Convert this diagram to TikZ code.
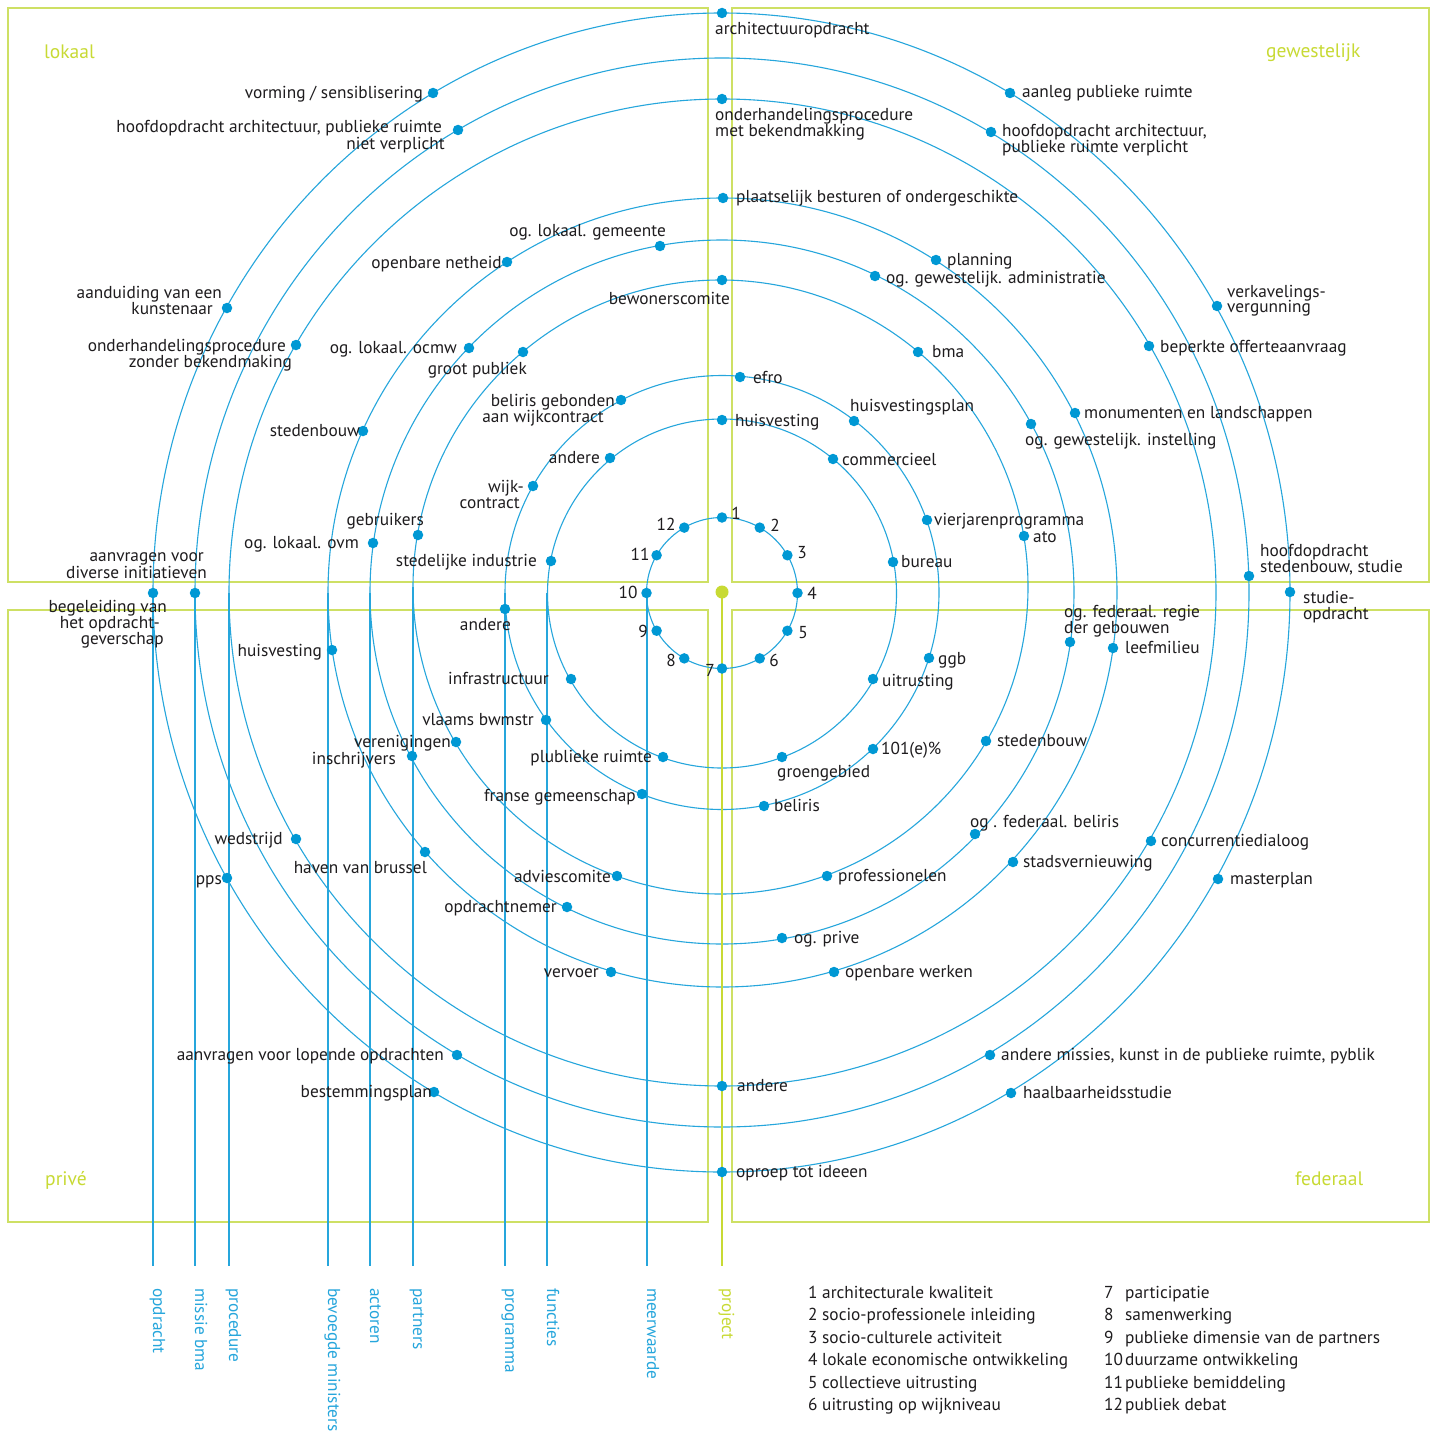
\documentclass[tikz,border=0pt]{standalone}
\usepackage{fontspec}
\setmainfont{PT Sans}
\definecolor{lineblue}{RGB}{38,166,220}
\definecolor{dotblue}{RGB}{0,152,212}
\definecolor{txtcol}{RGB}{30,28,30}
\definecolor{limegreen}{RGB}{200,218,52}
\definecolor{boxgreen}{RGB}{206,224,100}
\newcommand\lblfont{\fontsize{17.3}{17}\selectfont}
\newcommand\quadfont{\fontsize{19.5}{20}\selectfont}
\tikzset{
  dot/.style={circle, fill=dotblue, inner sep=0pt, minimum size=10.5pt},
  lw/.style={font=\lblfont, text=txtcol, inner sep=0pt, anchor=base west},
  le/.style={font=\lblfont, text=txtcol, inner sep=0pt, anchor=base east},
  num/.style={font=\lblfont, text=txtcol, inner sep=0pt},
  ring/.style={draw=lineblue, line width=1.1pt},
  quad/.style={draw=boxgreen, line width=1.4pt},
  quadlbl/.style={font=\quadfont, text=limegreen, inner sep=0pt, anchor=base west},
  axislbl/.style={font=\lblfont, text=lineblue, inner sep=0pt, rotate=-90, anchor=base west},
  leg/.style={font=\lblfont, text=txtcol, inner sep=0pt, anchor=base west},
}
\begin{document}
\begin{tikzpicture}[x=1pt,y=-1pt]
\useasboundingbox[fill=white] (0,0) rectangle (1434,1434);

% quadrant frames
\draw[quad] (8,8) rectangle (708,582);
\draw[quad] (732,8) rectangle (1429,582);
\draw[quad] (8,610) rectangle (708,1222);
\draw[quad] (732,610) rectangle (1429,1222);
\node[quadlbl] (q-lok) at (44,59) {lokaal};
\node[quadlbl] (q-gew) at (1266,58) {gewestelijk};
\node[quadlbl] (q-pri) at (45,1185) {privé};
\node[quadlbl] (q-fed) at (1295,1185) {federaal};

% rings
\draw[ring] (722,593) circle[radius=75.5pt];
\draw[ring] (722,593.5) circle[radius=174.5pt];
\draw[ring] (722,592.5) circle[radius=217pt];
\draw[ring] (720.5,587) ellipse[x radius=307.5pt, y radius=307pt];
\draw[ring] (722,592) circle[radius=352pt];
\draw[ring] (722.5,592.5) circle[radius=394.5pt];
\draw[ring] (722.5,592.5) circle[radius=493.5pt];
\draw[ring] (722,592.5) ellipse[x radius=527pt, y radius=534.5pt];
\draw[ring] (721.5,592.5) ellipse[x radius=568.5pt, y radius=579.5pt];

% vertical axes
\foreach \x/\y/\nm/\txt in {153/593/opd/opdracht, 195/593/mis/missie bma, 229/593/proc/procedure, 328/593/bev/bevoegde ministers, 370/593/act/actoren, 413/587/par/partners, 505/593/prog/programma, 547/593/fun/functies, 647/593/meer/meerwaarde}{
  \coordinate (top-\nm) at (\x,\y);
  \coordinate (bot-\nm) at (\x,1266);
  \draw[ring] (top-\nm) -- (bot-\nm);
  \node[axislbl] (ax-\nm) at (\x,1288) {\txt};
}
\coordinate (top-proj) at (722,593);
\coordinate (bot-proj) at (722,1266);
\draw[draw=limegreen, line width=1.1pt] (top-proj) -- (bot-proj);
\node[axislbl, text=limegreen] (ax-proj) at (722,1288) {project};
\node[circle, fill=limegreen, inner sep=0pt, minimum size=13pt] (center) at (722,592) {};

% ring A: numbers
\foreach \k in {1,...,12}{
  \node[dot] (n\k) at ({722+75.5*sin(30*(\k-1))},{593-75.5*cos(30*(\k-1))}) {};
}
\node[num] (t1) at (736,513) {1};
\node[num] (t2) at (775,525) {2};
\node[num] (t3) at (802,553) {3};
\node[num] (t4) at (812,593) {4};
\node[num] (t5) at (803,633) {5};
\node[num] (t6) at (774,660) {6};
\node[num] (t7) at (710,670) {7};
\node[num] (t8) at (671,660) {8};
\node[num] (t9) at (643,631) {9};
\node[num] (t10) at (628,592) {10};
\node[num] (t11) at (640,554) {11};
\node[num] (t12) at (666,524) {12};

% ring B (functies)
\node[dot] (b1) at (722,420) {};  \node[lw] (lb1) at (735,426) {huisvesting};
\node[dot] (b2) at (610,458) {};  \node[le] (lb2) at (600,463) {andere};
\node[dot] (b3) at (833,459) {};  \node[lw] (lb3) at (842,465) {commercieel};
\node[dot] (b4) at (551,561) {};  \node[le] (lb4) at (537,566) {stedelijke industrie};
\node[dot] (b5) at (893,562) {};  \node[lw] (lb5) at (901,567) {bureau};
\node[dot] (b6) at (571,679) {};  \node[le] (lb6) at (549,684) {infrastructuur};
\node[dot] (b7) at (873,679) {};  \node[lw] (lb7) at (882,686) {uitrusting};
\node[dot] (b8) at (663,757) {};  \node[le] (lb8) at (652,762) {plublieke ruimte};
\node[dot] (b9) at (782,757) {};  \node[lw] (lb9) at (777,777) {groengebied};

% ring C (programma)
\node[dot] (c1) at (740,377) {};  \node[lw] (lc1) at (753,383) {efro};
\node[dot] (c2) at (621,400) {};  \node[le] (lc2a) at (615,406) {beliris gebonden};
                                   \node[le] (lc2b) at (604,422) {aan wijkcontract};
\node[dot] (c3) at (854,421) {};  \node[lw] (lc3) at (850,411) {huisvestingsplan};
\node[dot] (c4) at (533,486) {};  \node[le] (lc4a) at (524,492) {wijk-};
                                   \node[le] (lc4b) at (520,508) {contract};
\node[dot] (c5) at (927,520) {};  \node[lw] (lc5) at (934,525) {vierjarenprogramma};
\node[dot] (c6) at (505,609) {};  \node[le] (lc6) at (511,630) {andere};
\node[dot] (c7) at (929,658) {};  \node[lw] (lc7) at (938,664) {ggb};
\node[dot] (c8) at (546,720) {};  \node[le] (lc8) at (534,725) {vlaams bwmstr};
\node[dot] (c9) at (873,749) {};  \node[lw] (lc9) at (881,754) {101(e)\%};
\node[dot] (c10) at (642,794) {}; \node[le] (lc10) at (636,801) {franse gemeenschap};
\node[dot] (c11) at (764,806) {}; \node[lw] (lc11) at (774,811) {beliris};

% ring D (partners)
\node[dot] (d1) at (722,280) {};  \node[le] (ld1) at (730,304) {bewonerscomite};
\node[dot] (d2) at (523,352) {};  \node[le] (ld2) at (527,374) {groot publiek};
\node[dot] (d3) at (1024,536) {}; \node[lw] (ld3) at (1033,542) {ato};
\node[dot] (d4) at (418,535) {};  \node[le] (ld4) at (424,525) {gebruikers};
\node[dot] (d5) at (456,742) {};  \node[le] (ld5) at (451,747) {verenigingen};
\node[dot] (d6) at (617,876) {};  \node[le] (ld6) at (611,882) {adviescomite};
\node[dot] (d7) at (827,876) {};  \node[lw] (ld7) at (838,881) {professionelen};

% ring E (actoren)
\node[dot] (e1) at (660,246) {};  \node[le] (le1) at (666,236) {og. lokaal. gemeente};
\node[dot] (e2) at (875,276) {};  \node[lw] (le2) at (886,283) {og. gewestelijk. administratie};
\node[dot] (e3) at (469,348) {};  \node[le] (le3) at (457,353) {og. lokaal. ocmw};
\node[dot] (e4) at (918,352) {};  \node[lw] (le4) at (932,357) {bma};
\node[dot] (e5) at (373,543) {};  \node[le] (le5) at (359,548) {og. lokaal. ovm};
\node[dot] (e6) at (1070,642) {}; \node[lw] (le6a) at (1064,617) {og. federaal. regie};
                                   \node[lw] (le6b) at (1064,633) {der gebouwen};
\node[dot] (e7) at (975,834) {};  \node[lw] (le7) at (970,827) {og . federaal. beliris};
\node[dot] (e8) at (782,938) {};  \node[lw] (le8) at (794,943) {og. prive};
\node[dot] (e9) at (412,756) {};  \node[le] (le9) at (396,764) {inschrijvers};
\node[dot] (e10) at (567,907) {}; \node[le] (le10) at (557,912) {opdrachtnemer};

% ring F (bevoegde ministers)
\node[dot] (f1) at (723,198) {};  \node[lw] (lf1) at (736,203) {plaatselijk besturen of ondergeschikte};
\node[dot] (f2) at (507,262) {};  \node[le] (lf2) at (502,268) {openbare netheid};
\node[dot] (f3) at (936,260) {};  \node[lw] (lf3) at (947,265) {planning};
\node[dot] (f4) at (363,431) {};  \node[le] (lf4) at (360,436) {stedenbouw};
\node[dot] (f5) at (1031,424) {}; \node[lw] (lf5) at (1025,445) {og. gewestelijk. instelling};
\node[dot] (f6) at (332,650) {};  \node[le] (lf6) at (322,656) {huisvesting};
\node[dot] (f7) at (986,741) {};  \node[lw] (lf7) at (997,746) {stedenbouw};
\node[dot] (f8) at (425,852) {};  \node[le] (lf8) at (427,873) {haven van brussel};
\node[dot] (f9) at (834,972) {};  \node[lw] (lf9) at (845,977) {openbare werken};
\node[dot] (f10) at (611,972) {}; \node[le] (lf10) at (599,977) {vervoer};

% ring G (procedure)
\node[dot] (g1) at (722,99) {};   \node[lw] (lg1a) at (715,121) {onderhandelingsprocedure};
                                   \node[lw] (lg1b) at (715,137) {met bekendmakking};
\node[dot] (g2) at (296,345) {};  \node[le] (lg2a) at (286,351) {onderhandelingsprocedure};
                                   \node[le] (lg2b) at (292,367) {zonder bekendmaking};
\node[dot] (g3) at (1075,413) {}; \node[lw] (lg3) at (1084,418) {monumenten en landschappen};
\node[dot] (g4) at (1113,648) {}; \node[lw] (lg4) at (1125,653) {leefmilieu};
\node[dot] (g5) at (296,839) {};  \node[le] (lg5) at (283,844) {wedstrijd};
\node[dot] (g6) at (1013,862) {}; \node[lw] (lg6) at (1023,867) {stadsvernieuwing};
\node[dot] (g7) at (722,1086) {}; \node[lw] (lg7) at (737,1091) {andere};

% ring H (missie bma)
\node[dot] (h1) at (458,130) {};  \node[le] (lh1a) at (442,133) {hoofdopdracht architectuur, publieke ruimte};
                                   \node[le] (lh1b) at (445,150) {niet verplicht};
\node[dot] (h2) at (991,132) {};  \node[lw] (lh2a) at (1002,137) {hoofdopdracht architectuur,};
                                   \node[lw] (lh2b) at (1002,153) {publieke ruimte verplicht};
\node[dot] (h3) at (1149,346) {}; \node[lw] (lh3) at (1160,352) {beperkte offerteaanvraag};
\node[dot] (h4) at (1249,576) {}; \node[lw] (lh4a) at (1260,556) {hoofdopdracht};
                                   \node[lw] (lh4b) at (1260,572) {stedenbouw, studie};
\node[dot] (h5) at (195,593) {};  \node[le] (lh5a) at (204,561) {aanvragen voor};
                                   \node[le] (lh5b) at (207,578) {diverse initiatieven};
\node[dot] (h6) at (1151,841) {}; \node[lw] (lh6) at (1161,846) {concurrentiedialoog};
\node[dot] (h7) at (457,1055) {}; \node[le] (lh7) at (444,1060) {aanvragen voor lopende opdrachten};
\node[dot] (h8) at (990,1055) {}; \node[lw] (lh8) at (1001,1060) {andere missies, kunst in de publieke ruimte, pyblik};

% ring I (opdracht)
\node[dot] (i1) at (722,13) {};   \node[lw] (li1) at (715,35) {architectuuropdracht};
\node[dot] (i2) at (1010,93) {};  \node[lw] (li2) at (1022,98) {aanleg publieke ruimte};
\node[dot] (i3) at (433,93) {};   \node[le] (li3) at (423,99) {vorming / sensiblisering};
\node[dot] (i4) at (1217,306) {}; \node[lw] (li4a) at (1227,297) {verkavelings-};
                                   \node[lw] (li4b) at (1227,312) {vergunning};
\node[dot] (i5) at (227,308) {};  \node[le] (li5a) at (222,298) {aanduiding van een};
                                   \node[le] (li5b) at (213,314) {kunstenaar};
\node[dot] (i6) at (153,593) {};  \node[le] (li6a) at (167,612) {begeleiding van};
                                   \node[le] (li6b) at (160,628) {het opdracht-};
                                   \node[le] (li6c) at (164,644) {geverschap};
\node[dot] (i7) at (1290,592) {}; \node[lw] (li7a) at (1303,603) {studie-};
                                   \node[lw] (li7b) at (1303,619) {opdracht};
\node[dot] (i8) at (227,878) {};  \node[le] (li8) at (222,884) {pps};
\node[dot] (i9) at (1218,879) {}; \node[lw] (li9) at (1230,884) {masterplan};
\node[dot] (i10) at (434,1092) {}; \node[le] (li10) at (432,1097) {bestemmingsplan};
\node[dot] (i11) at (1011,1093) {}; \node[lw] (li11) at (1023,1098) {haalbaarheidsstudie};
\node[dot] (i12) at (722,1172) {}; \node[lw] (li12) at (736,1177) {oproep tot ideeen};

% legend
\foreach \i/\txt in {1/architecturale kwaliteit, 2/socio-professionele inleiding, 3/socio-culturele activiteit, 4/lokale economische ontwikkeling, 5/collectieve uitrusting, 6/uitrusting op wijkniveau}{
  \node[leg] (leg\i) at (808,{1298+22.5*(\i-1)}) {\makebox[14pt][l]{\i}\txt};
}
\foreach \i/\txt in {7/participatie, 8/samenwerking, 9/publieke dimensie van de partners, 10/duurzame ontwikkeling, 11/publieke bemiddeling, 12/publiek debat}{
  \node[leg] (leg\i) at (1104,{1298+22.5*(\i-7)}) {\makebox[21pt][l]{\i}\txt};
}
\end{tikzpicture}
\end{document}
